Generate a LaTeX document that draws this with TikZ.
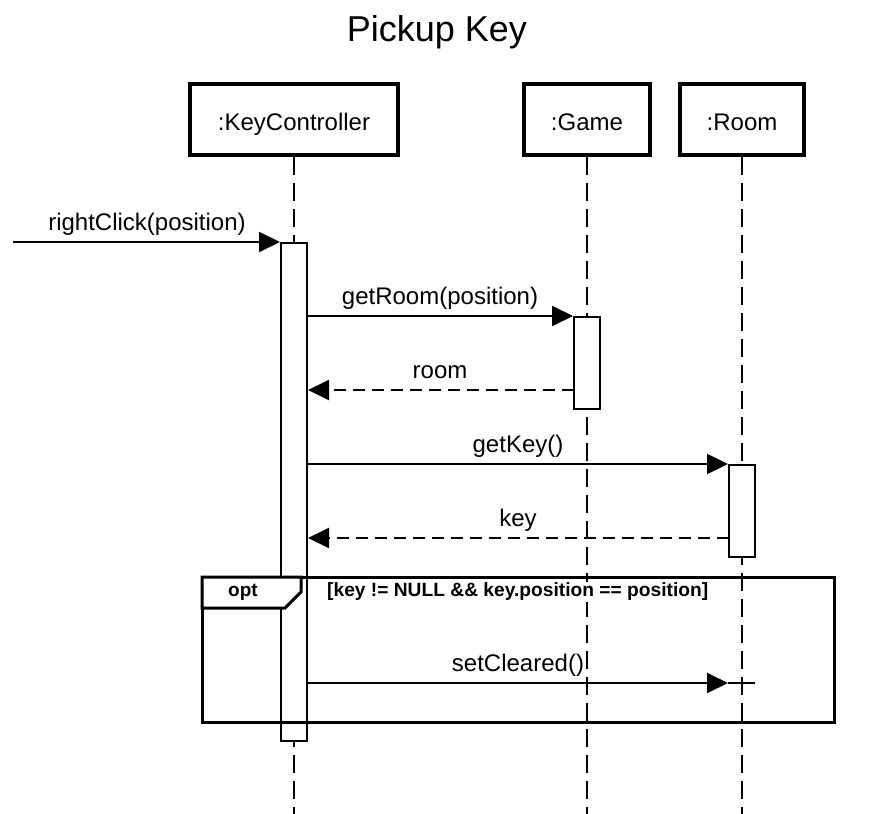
\documentclass[tikz,border=0pt]{standalone}
\usepackage{fontspec}
\setmainfont{Liberation Sans}
\usetikzlibrary{arrows.meta}
\begin{document}
\begin{tikzpicture}[x=1pt,y=-1pt,
  msgfont/.style={font=\fontsize{24}{28}\selectfont},
  head/.style={draw,line width=4pt,fill=white,minimum height=71pt,inner sep=0pt,text height=21pt,text depth=0pt,msgfont},
  lifeline/.style={line width=2pt,dash pattern=on 18pt off 8pt},
  actbox/.style={draw,line width=2pt,fill=white,minimum width=26pt,inner sep=0pt,anchor=north},
  call/.style={line width=2pt,-{Triangle[length=21pt,width=20pt]}},
  ret/.style={line width=2pt,dash pattern=on 12pt off 7pt,-{Triangle[length=21pt,width=20pt]}},
  lbl/.style={msgfont,anchor=base,inner sep=0pt}]
\useasboundingbox (0,0) rectangle (873,814);
\fill[white] (0,0) rectangle (873,814);

% title
\node[font=\fontsize{36}{40}\selectfont,anchor=base,inner sep=0pt] (title) at (437,41) {Pickup Key};

% heads
\node[head,minimum width=208pt] (kc) at (294,119.5) {:KeyController};
\node[head,minimum width=126pt] (game) at (587,119.5) {:Game};
\node[head,minimum width=124pt] (room) at (742,119.5) {:Room};

% lifeline ends
\coordinate (kcend) at (294,814);
\coordinate (gameend) at (587,814);
\coordinate (roomend) at (742,814);
\draw[lifeline] (kc.south) -- (kcend);
\draw[lifeline] (game.south) -- (gameend);
\draw[lifeline] (room.south) -- (roomend);

% activations
\node[actbox,minimum height=498pt] (kcact) at (294,242) {};
\node[actbox,minimum height=92pt] (gact) at (587,316) {};
\node[actbox,minimum height=92pt] (ract) at (742,464) {};

% rightClick
\coordinate (src) at (13,242);
\draw[call] (src) -- (kcact.north west);
\node[lbl] (l1) at (147,230) {rightClick(position)};

% getRoom
\draw[call] (kcact.east |- gact.north) -- (gact.north west);
\node[lbl] (l2) at (440,304) {getRoom(position)};

% room return
\coordinate (rroom) at (574,390);
\draw[ret] (rroom) -- (kcact.east |- rroom);
\node[lbl] (l3) at (440,378) {room};

% getKey
\draw[call] (kcact.east |- ract.north) -- (ract.north west);
\node[lbl] (l4) at (518,452) {getKey()};

% key return
\coordinate (rkey) at (729,538);
\draw[ret] (rkey) -- (kcact.east |- rkey);
\node[lbl] (l5) at (518,526) {key};

% opt frame
\coordinate (fnw) at (202,577);
\coordinate (fse) at (834,722);
\draw[line width=3pt] (fnw) rectangle (fse);
\draw[line width=3pt,fill=white] (202,577) -- (301,577) -- (301,592) -- (285,608) -- (202,608) -- cycle;
\node[font=\bfseries\fontsize{19}{22}\selectfont,inner sep=0pt] (optl) at (243,592) {opt};
\node[font=\bfseries\fontsize{19.2}{22}\selectfont,inner sep=1.5pt,fill=white,anchor=west] (cond) at (325.5,592) {[key != NULL \&\& key.position == position]};

% setCleared
\coordinate (sc) at (728,683);
\coordinate (scend) at (755,683);
\draw[call] (kcact.east |- sc) -- (sc);
\draw[line width=2pt] (sc) -- (scend);
\node[lbl] (l6) at (518,671) {setCleared()};
\end{tikzpicture}
\end{document}
